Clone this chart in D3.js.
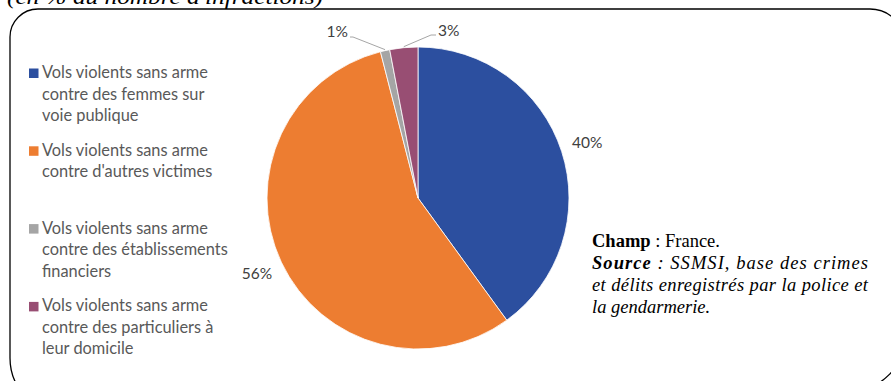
<!DOCTYPE html>
<html><head><meta charset="utf-8">
<script src="https://cdn.jsdelivr.net/npm/d3@7"></script>
<style>
html,body{margin:0;padding:0;background:#fff;}
svg{display:block;}
</style></head>
<body>
<svg id="chart" width="891" height="381"></svg>
<script>
const categories = [
  "Vols violents sans arme contre des femmes sur voie publique",
  "Vols violents sans arme contre d'autres victimes",
  "Vols violents sans arme contre des établissements financiers",
  "Vols violents sans arme contre des particuliers à leur domicile"
];
const legendLines = [
  ["Vols violents sans arme", "contre des femmes sur", "voie publique"],
  ["Vols violents sans arme", "contre d'autres victimes"],
  ["Vols violents sans arme", "contre des établissements", "financiers"],
  ["Vols violents sans arme", "contre des particuliers à", "leur domicile"]
];
const values = [40, 56, 1, 3];
const valueLabels = ["40%", "56%", "1%", "3%"];
const colors = ["#2C4F9F", "#ED7D31", "#A5A5A5", "#984E73"];
const titleText = "(en % du nombre d'infractions)";
const noteLines = [
  {bold: "Champ", rest: " : France."},
  {bold: "Source", rest: " : SSMSI, base des crimes"},
  {bold: "", rest: "et délits enregistrés par la police et"},
  {bold: "", rest: "la gendarmerie."}
];

const svg = d3.select("#chart");
const sansFont = "Lato, 'Open Sans', sans-serif";
const serifFont = "'Liberation Serif', 'DejaVu Serif', serif";

// Title (cut at top, as in the reference)
svg.append("text")
  .attr("x", 7).attr("y", 4)
  .attr("font-family", serifFont).attr("font-style", "italic")
  .attr("font-size", 21).attr("fill", "#000")
  .attr("textLength", 316).attr("lengthAdjust", "spacingAndGlyphs")
  .text(titleText);

// Frame
const frame = d3.path();
frame.moveTo(10, 9 + 28);
frame.arcTo(10, 9, 10 + 28, 9, 28);
frame.lineTo(870, 9);
frame.arcTo(905, 9, 905, 44, 35);
frame.lineTo(905, 336);
frame.arcTo(905, 391, 850, 391, 55);
frame.lineTo(65, 413);
frame.arcTo(10, 413, 10, 358, 55);
frame.closePath();
svg.append("path").attr("d", frame.toString())
  .attr("fill", "none").attr("stroke", "#000").attr("stroke-width", 1.3);

// Pie
const cx = 418, cy = 198, R = 151;
const pie = d3.pie().sort(null).value(d => d)(values);
const arc = d3.arc().innerRadius(0).outerRadius(R);
const g = svg.append("g").attr("transform", `translate(${cx},${cy})`);
g.selectAll("path.slice").data(pie).join("path")
  .attr("class", "slice")
  .attr("d", arc)
  .attr("fill", (d, i) => colors[i])
  .attr("stroke", "#fff").attr("stroke-width", 0.8);

// Labels
const labelArc = d3.arc().innerRadius(178).outerRadius(178);
const edgeArc = d3.arc().innerRadius(R).outerRadius(R);
const labelFont = 15.5;
pie.forEach((d, i) => {
  if (values[i] >= 10) {
    const [x, y] = labelArc.centroid(d);
    g.append("text").attr("x", x).attr("y", y).attr("dy", "0.35em")
      .attr("text-anchor", "middle")
      .attr("font-family", sansFont).attr("font-size", labelFont)
      .attr("fill", "#404040").text(valueLabels[i]);
  }
});
// small slices with leader lines
const [gx, gy] = edgeArc.centroid(pie[2]);
g.append("polyline")
  .attr("points", [[gx, gy - 1], [353 - cx, 37 - cy], [350 - cx, 37 - cy]].map(p => p.join(",")).join(" "))
  .attr("fill", "none").attr("stroke", "#A6A6A6").attr("stroke-width", 1);
g.append("text").attr("x", 348 - cx).attr("y", 32 - cy).attr("dy", "0.35em")
  .attr("text-anchor", "end")
  .attr("font-family", sansFont).attr("font-size", labelFont)
  .attr("fill", "#404040").text(valueLabels[2]);
const [px, py] = edgeArc.centroid(pie[3]);
g.append("polyline")
  .attr("points", [[px, py - 1], [431 - cx, 35 - cy], [436 - cx, 35 - cy]].map(p => p.join(",")).join(" "))
  .attr("fill", "none").attr("stroke", "#A6A6A6").attr("stroke-width", 1);
g.append("text").attr("x", 438 - cx).attr("y", 31 - cy).attr("dy", "0.35em")
  .attr("text-anchor", "start")
  .attr("font-family", sansFont).attr("font-size", labelFont)
  .attr("fill", "#404040").text(valueLabels[3]);

// Legend
const legendSize = 15;
const legend = svg.append("g");
legendLines.forEach((lines, i) => {
  const baseY = 78 + i * 77.8;
  legend.append("rect").attr("x", 29).attr("y", baseY - 9.5)
    .attr("width", 9.5).attr("height", 9.5).attr("fill", colors[i]);
  lines.forEach((ln, j) => {
    legend.append("text").attr("x", 42).attr("y", baseY + j * 21.5)
      .attr("font-family", sansFont).attr("font-size", legendSize)
      .attr("fill", "#595959").text(ln);
  });
});
const t0 = legend.select("text").node();
const w0 = t0.getComputedTextLength();
const fs = legendSize * 166 / w0;
legend.selectAll("text").attr("font-size", fs);

// Note
const note = svg.append("g");
const noteY = [247, 268.5, 290.5, 313];
const justify = [false, true, true, false];
noteLines.forEach((ln, i) => {
  const t = note.append("text").attr("x", 592).attr("y", noteY[i])
    .attr("font-family", serifFont).attr("font-size", 18.5).attr("fill", "#000");
  if (ln.bold) {
    t.append("tspan").attr("font-weight", "bold")
      .attr("font-style", i === 1 ? "italic" : "normal").text(ln.bold);
  }
  t.append("tspan").attr("font-style", i === 0 ? "normal" : "italic").text(ln.rest);
  if (justify[i]) t.attr("textLength", 276).attr("lengthAdjust", "spacing");
});
</script>
</body></html>
